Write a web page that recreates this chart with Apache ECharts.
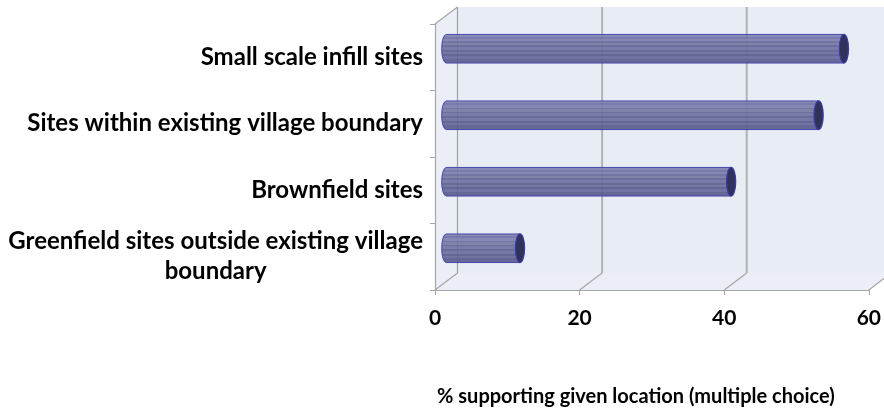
<!DOCTYPE html>
<html>
<head>
<meta charset="utf-8">
<script src="https://cdn.jsdelivr.net/npm/echarts@6/dist/echarts.min.js"></script>
<style>
  html, body { margin: 0; padding: 0; background: #fff; }
  #chart { width: 884px; height: 412px; }
</style>
</head>
<body>
<div id="chart"></div>
<script>
// categories top to bottom
const categories = [
  'Small scale infill sites',
  'Sites within existing village boundary',
  'Brownfield sites',
  'Greenfield sites outside existing village\nboundary'
];
const support = [55.0, 51.5, 39.4, 10.2];
const xTicks = [0, 20, 40, 60];
const axisTitle = '% supporting given location (multiple choice)';

// 3d depth of the plot box (px)
const DX = 22.5, DY = -17;
const FONT = 'Lato';
const lineCol = '#a6a6a6';

function renderWalls(params, api) {
  const cs = params.coordSys;
  const L = cs.x, R = cs.x + cs.width, T = cs.y, B = cs.y + cs.height;
  const kids = [
    { type: 'polygon', shape: { points: [[L + DX, T + DY], [R + DX, T + DY], [R + DX, B + DY], [L + DX, B + DY]] },
      style: { fill: '#e8ecf5' } },
    { type: 'polygon', shape: { points: [[L, T], [L + DX, T + DY], [L + DX, B + DY], [L, B]] },
      style: { fill: '#ebeef6' } },
    { type: 'polygon', shape: { points: [[L, B], [L + DX, B + DY], [R + DX, B + DY], [R, B]] },
      style: { fill: '#ebeef6' } },
    { type: 'line', shape: { x1: L, y1: T, x2: L + DX, y2: T + DY },
      style: { stroke: lineCol, lineWidth: 1.2 } }
  ];
  xTicks.forEach(function (v) {
    const x = api.coord([v, 0])[0];
    kids.push({ type: 'line', shape: { x1: x + DX, y1: T + DY, x2: x + DX, y2: B + DY },
      style: { stroke: v === 0 ? '#a0a0a0' : '#b2b2b2', lineWidth: v === 0 ? 1.2 : 2 } });
    kids.push({ type: 'line', shape: { x1: x, y1: B, x2: x + DX, y2: B + DY },
      style: { stroke: lineCol, lineWidth: 1.2 } });
  });
  return { type: 'group', children: kids };
}

// horizontal stripes on the cylinder body
const stripes = [
  [0, '#7d80b1'], [0.1, '#7d80b1'], [0.1, '#6c6fa1'], [0.17, '#6c6fa1'], [0.17, '#7a7dae'],
  [0.24, '#7a7dae'], [0.24, '#66699b'], [0.3, '#66699b'], [0.3, '#74779f'], [0.38, '#74779f'],
  [0.38, '#5f6294'], [0.44, '#5f6294'], [0.44, '#6d709f'], [0.53, '#6d709f'], [0.53, '#5b5e90'],
  [0.6, '#5b5e90'], [0.6, '#686b9b'], [0.68, '#686b9b'], [0.68, '#56598b'], [0.75, '#56598b'],
  [0.75, '#63669a'], [0.84, '#63669a'], [0.84, '#55588b'], [1, '#5a5d90']
];

function renderBar(params, api) {
  const val = api.value(0);
  const cat = api.value(1);
  const s = api.coord([0, cat]);
  const e = api.coord([val, cat]);
  const band = api.size([0, 1])[1];
  const ry = band * 0.215;
  const rx = 4.6;
  const x0 = s[0] + DX / 2, x1 = e[0] + DX / 2, cy = s[1] + DY / 2;
  const path = 'M' + x0 + ',' + (cy - ry) + ' L' + x1 + ',' + (cy - ry) +
    ' L' + x1 + ',' + (cy + ry) + ' L' + x0 + ',' + (cy + ry) +
    ' A' + rx + ',' + ry + ' 0 0 1 ' + x0 + ',' + (cy - ry) + ' Z';
  const body = new echarts.graphic.LinearGradient(0, 0, 0, 1,
    stripes.map(function (p) { return { offset: p[0], color: p[1] }; }));
  return {
    type: 'group',
    children: [
      { type: 'path', shape: { pathData: path },
        style: { fill: body, stroke: '#3b3caa', lineWidth: 1, opacity: 0.9 } },
      { type: 'ellipse', shape: { cx: x1, cy: cy, rx: rx, ry: ry },
        style: { fill: '#30325a', stroke: '#3b3caa', lineWidth: 1.2 } }
    ]
  };
}

const chart = echarts.init(document.getElementById('chart'));
chart.setOption({
  animation: false,
  backgroundColor: '#fff',
  grid: { left: 435, right: 12, top: 24, bottom: 122 },
  xAxis: {
    type: 'value', min: 0, max: 60, interval: 20, z: 5,
    axisLine: { show: true, lineStyle: { color: lineCol, width: 1.2 } },
    axisTick: { show: true, length: 5, lineStyle: { color: lineCol } },
    splitLine: { show: false },
    axisLabel: { fontFamily: FONT, fontSize: 21, fontWeight: 'bold', color: '#000', margin: 18 },
    name: axisTitle,
    nameLocation: 'middle',
    nameGap: 97,
    nameTextStyle: { fontFamily: FONT, fontSize: 20, fontWeight: 'bold', color: '#000', padding: [0, 32, 0, 0] }
  },
  yAxis: {
    type: 'category', data: categories, inverse: true, z: 5,
    axisLine: { show: true, lineStyle: { color: lineCol, width: 1.2 } },
    axisTick: { show: true, length: 5, lineStyle: { color: lineCol } },
    axisLabel: {
      margin: 12,
      formatter: function (v) {
        return v.split('\n').map(function (t) { return '{a|' + t + '}'; }).join('\n');
      },
      rich: {
        a: { align: 'center', fontFamily: FONT, fontSize: 24, fontWeight: 'bold', color: '#000', lineHeight: 30 }
      }
    }
  },
  series: [
    { type: 'custom', z: 1, clip: false, renderItem: renderWalls, data: [[0, 0]], silent: true },
    {
      type: 'custom', z: 2, clip: false, renderItem: renderBar,
      encode: { x: 0, y: 1 },
      data: support.map(function (v, i) { return [v, i]; })
    }
  ]
});
</script>
</body>
</html>
